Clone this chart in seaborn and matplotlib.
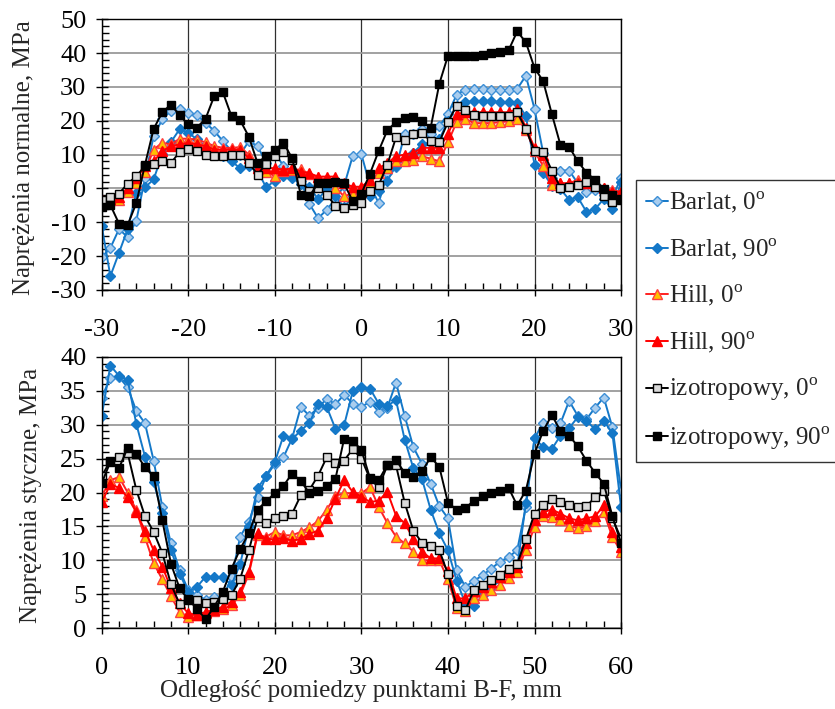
import matplotlib
matplotlib.use('Agg')
import matplotlib.pyplot as plt
import seaborn as sns
from matplotlib.ticker import MultipleLocator

# x positions
x_top = list(range(-30, 31))
x_bot = list(range(0, 61))

# top chart: normal stress
top_barlat0 = [-20.3, -17.6, -12, -14.4, -9.5, 3, 15.5, 20.4, 23, 23.5, 22.2, 21.6, 19.4, 17, 14, 11, 10, 14,
               12.5, 7.6, 10.4, 6.7, 3.7, 2.3, -4.6, -8.8, -6.3, -3.1, 0.8, 9.6, 10.1, 0.8, -4.3, 4.7, 6.2, 16,
               16, 17.5, 16, 18.4, 22, 27.7, 29.2, 29.4, 29.4, 29.2, 29.2, 29, 29.4, 33.3, 23.5, 10.5, 3, 5.3,
               5.3, 1.5, -1, -0.5, -2, -2.5, 3]
top_barlat90 = [-11, -25.9, -19, -12, -1.2, 0.3, 2.7, 10.1, 13.7, 17.5, 16.5, 14.5, 12.5, 10.6, 9.6, 8.1, 5.9,
                6.7, 5.2, 0.3, 2.3, 3.7, 3.2, 1.3, 0.3, -3.1, -0.2, -2.2, -5.6, -2.2, -0.7, -2.2, -0.7, 2.3, 6.7,
                8.6, 10.6, 13, 13.5, 14.5, 19.9, 24.5, 25.5, 25.8, 25.8, 25.8, 25.5, 25.5, 25.3, 21.4, 7, 4.7,
                0.8, -0.2, -3.3, -2.6, -6.9, -6.1, -3.1, -6.1, 1.8]
top_hill0 = [-4, -3.5, -3.5, -1, 1.5, 5, 11.5, 13.5, 13, 14.7, 14.7, 14.4, 13.6, 12.5, 12, 12, 12.2, 10, 6, 5,
             3.6, 5.1, 5.5, 5.6, 4.3, 3.3, 2.6, 0.2, -2.3, -1.5, -1, 1.7, 4.6, 6, 8, 8, 8.5, 9.5, 8.8, 8, 13.6,
             19.6, 20.6, 19.3, 19.3, 19.3, 19.6, 19.8, 20.6, 17.4, 11, 6.6, 1, 1.5, 1.5, 2.6, 1.5, 1, 0, -0.5, -1]
top_hill90 = [-3.5, -3, -2.5, 0, 3, 6.5, 8, 11, 12.5, 13, 13.5, 13, 12.5, 11.5, 11.5, 11.5, 11.5, 9, 6, 6, 6,
              5.5, 6, 5, 4.5, 3.5, 3.5, 3.5, 1.5, 0.5, 0.5, 2.5, 6, 7.5, 9.5, 10, 10.5, 12, 12, 12, 16, 22, 22.5,
              22.5, 22.5, 22.5, 22.5, 22.5, 23.5, 18, 12, 10, 3, 1.5, 1.5, 1.5, 1.5, 1.5, 0, -1, -1]
top_izo0 = [-3.5, -2.5, -1.5, 1.4, 3.6, 6.6, 7.3, 8, 7.5, 10.8, 11.6, 11, 9.8, 9.6, 9.5, 9.8, 9.8, 7.5, 4.1,
            7.3, 9.5, 10.8, 8.5, 2.2, -0.8, 0, -1.8, -5.2, -5.7, -5, -4.2, -0.8, 1, 7, 15.1, 14.2, 16.2, 16.3,
            14.1, 13.7, 19.6, 24.5, 23.2, 21.6, 21.5, 21.3, 21.3, 21.3, 22.5, 17.6, 11, 10.8, 5.3, 0.2, 0.4,
            0.9, 2, 0.5, -2.2, -3.9, -3.4]
top_izo90 = [-5.5, -4.9, -10.4, -10.8, -4.3, 7, 17.6, 22.5, 24.8, 21.6, 18.9, 18, 20.6, 27.3, 28.4, 21.3, 20.1,
             15.3, 7.5, 9.6, 11.4, 13.5, 8.9, -1.9, -2.2, 1.5, 1.5, 1.8, 1.5, -3.8, -1.5, 4.4, 11.1, 17.2, 19.6,
             20.9, 21.2, 19.8, 17.9, 30.9, 39.2, 39, 39, 39, 39.5, 39.9, 40.3, 40.8, 46.4, 43.2, 35.6, 31.7, 22,
             12.8, 12.3, 8, 4.7, 2.5, -0.1, -2, -3]

# bottom chart: shear stress
bot_barlat0 = [34, 36.9, 37, 35.5, 32, 30.2, 24.7, 17.9, 12.5, 8.6, 5.6, 4.9, 4.2, 4.6, 4.5, 7.5, 13.5, 15.7,
               19.4, 22.4, 24.2, 25.2, 28, 32.6, 31.3, 32.5, 33.8, 33, 34.4, 33.1, 32.6, 33.4, 31.9, 32.5, 36.2,
               31.3, 26.7, 24.2, 21.3, 18, 16.2, 8.6, 6.1, 7, 7.8, 8.8, 9.8, 10.5, 11.5, 17.9, 28, 30.3, 29.5,
               30.2, 33.5, 31.3, 30.8, 32.5, 34, 29.6, 20.3]
bot_barlat90 = [31.3, 38.7, 37.2, 36.6, 30.1, 25.3, 21.5, 17, 11.5, 8, 5.4, 6.1, 7.6, 7.6, 7.5, 6.4, 9.5, 15,
                20.6, 22.5, 24.5, 28.4, 27.9, 29.1, 30.3, 33, 32.6, 29.4, 29.9, 34.9, 35.6, 35.3, 33.1, 32.8,
                33.6, 27.8, 23.6, 22, 17.5, 14, 11.5, 7, 3.7, 3.3, 4.9, 5.9, 7.1, 8.3, 9, 18.4, 28, 26.7, 26.4,
                28.4, 29.5, 31.1, 30.6, 29.3, 30.6, 28.7, 17.8]
bot_hill0 = [19.5, 21.8, 22.3, 20, 17.4, 13.4, 9.6, 7.2, 4.7, 2.4, 1.7, 2, 2.3, 2.6, 2.9, 3.4, 4.9, 8, 13.7,
             13.5, 14.2, 13.7, 13.7, 14.2, 14.9, 15.8, 17.5, 19.5, 19.9, 19.9, 19.9, 20.8, 17.9, 15.5, 13.5,
             12.5, 11.3, 10, 10, 10, 7.2, 3, 2.5, 4.4, 4.9, 5.6, 6.4, 7.4, 8.3, 11.6, 14.9, 16.5, 16.4, 16, 15,
             14.8, 15, 15.8, 17.1, 13.4, 11.3]
bot_hill90 = [18.6, 21.2, 20.7, 19.3, 17.1, 14.4, 11.5, 9.1, 5.9, 3.7, 2.2, 2, 2.4, 2.7, 3.2, 3.9, 5.4, 8.3,
              14, 13.2, 13.1, 13.3, 12.9, 13.2, 13.9, 14.4, 16.2, 19.1, 21.8, 20.1, 19.4, 18.6, 18.8, 20.1,
              16.6, 15.5, 13.2, 11.3, 10.3, 10.3, 8.5, 4.4, 4.4, 5.5, 6.1, 6.8, 7.5, 8.3, 9, 12.5, 16, 17.1,
              17.5, 16.9, 16.2, 15.9, 16.2, 16.5, 18.1, 14.2, 12]
bot_izo0 = [22.4, 24.7, 25.2, 25.8, 20.4, 16.5, 14.2, 11.1, 6.5, 3.6, 4.3, 4.1, 3.8, 3.9, 4.3, 4.9, 7.3, 11.5,
            16.2, 15.5, 16.2, 16.5, 16.9, 19.6, 20.4, 22.5, 25.2, 24.3, 24.7, 26.4, 25, 22, 20.8, 24, 24, 18.5,
            14.4, 12.6, 12.1, 11.5, 8, 3.3, 2.7, 5.6, 6.4, 7.1, 7.8, 8.8, 9.5, 13.1, 16.9, 18.1, 19.1, 18.6,
            18.1, 17.9, 18, 19.3, 20.3, 16.2, 13.2]
bot_izo90 = [21.4, 24.5, 23.6, 26.6, 25.7, 23.7, 22.4, 15.9, 9.5, 5.9, 4.2, 2.9, 1.3, 3.2, 5.4, 8.8, 11.7, 14,
             17.5, 18.7, 19.9, 21, 22.8, 21.7, 19.9, 20.3, 21, 22, 27.9, 27.6, 26.3, 22.1, 21.8, 24.1, 24.8,
             22.9, 22.3, 23.1, 25.2, 23.8, 18.5, 17.5, 17.7, 18.8, 19.5, 19.9, 20.3, 20.7, 18.1, 20.3, 25.7,
             29.1, 31.4, 29.1, 28.4, 26.8, 24.7, 22.9, 21.3, 16.5, 12.5]

labels = ['Barlat, 0$^\\mathregular{o}$', 'Barlat, 90$^\\mathregular{o}$', 'Hill, 0$^\\mathregular{o}$',
          'Hill, 90$^\\mathregular{o}$', 'izotropowy, 0$^\\mathregular{o}$', 'izotropowy, 90$^\\mathregular{o}$']

# line colour, marker, face colour, edge colour, marker size
styles = [
    ('#1478c8', 'D', '#a9cdee', '#3d8fd6', 5),
    ('#1478c8', 'D', '#1478c8', '#1478c8', 5),
    ('#ff2020', '^', '#ffc000', '#ff4040', 7),
    ('#ff0000', '^', '#ff0000', '#ff0000', 7),
    ('#000000', 's', '#d9d9d9', '#000000', 6.3),
    ('#000000', 's', '#000000', '#000000', 6.3),
]

sns.set_style('white')
plt.rcParams['font.family'] = ['Liberation Serif', 'DejaVu Serif']
plt.rcParams['mathtext.fontset'] = 'custom'
plt.rcParams['mathtext.rm'] = 'Liberation Serif'
plt.rcParams['axes.unicode_minus'] = False

fig = plt.figure(figsize=(8.35, 7.09), dpi=100)
ax1 = fig.add_axes([0.1218, 0.591, 0.622, 0.3819])
ax2 = fig.add_axes([0.1218, 0.1138, 0.622, 0.383])

top_series = [top_barlat0, top_barlat90, top_hill0, top_hill90, top_izo0, top_izo90]
bot_series = [bot_barlat0, bot_barlat90, bot_hill0, bot_hill90, bot_izo0, bot_izo90]

for ax, xs, series in [(ax1, x_top, top_series), (ax2, x_bot, bot_series)]:
    for ys, lab, (lc, mk, fc, ec, ms) in zip(series, labels, styles):
        sns.lineplot(x=xs, y=ys, ax=ax, color=lc, marker=mk, markerfacecolor=fc, markeredgecolor=ec,
                     markersize=ms, markeredgewidth=1.0, linewidth=1.4, label=lab, sort=False, legend=False)

def style_axes(ax, xlim, ylim, xmaj, xmin, ymaj, ymin):
    ax.set_xlim(*xlim)
    ax.set_ylim(*ylim)
    ax.xaxis.set_major_locator(MultipleLocator(xmaj))
    ax.xaxis.set_minor_locator(MultipleLocator(xmin))
    ax.yaxis.set_major_locator(MultipleLocator(ymaj))
    ax.yaxis.set_minor_locator(MultipleLocator(ymin))
    ax.grid(True, axis='y', which='major', color='#9a9a9a', linewidth=1.3)
    ax.grid(True, axis='x', which='major', color='#303030', linewidth=0.9)
    ax.set_axisbelow(True)
    for s in ax.spines.values():
        s.set_color('black')
        s.set_linewidth(1.0)
    ax.tick_params(axis='both', which='major', direction='inout', length=8, width=1, colors='black',
                   labelsize=19, bottom=True, left=True)
    ax.tick_params(axis='both', which='minor', direction='in', length=5, width=1, colors='black',
                   bottom=True, left=True)
    ax.tick_params(axis='x', which='major', pad=17)
    ax.tick_params(axis='y', which='major', pad=7)

style_axes(ax1, (-30, 30), (-30, 50), 10, 2, 10, 2)
style_axes(ax2, (0, 60), (0, 40), 10, 2, 5, 1)

ax1.set_xlabel('')
ax1.set_ylabel('Naprężenia normalne, MPa', fontsize=18)
ax2.set_ylabel('Naprężenia styczne, MPa', fontsize=18)
ax2.set_xlabel('Odległość pomiedzy punktami B-F, mm', fontsize=18)
ax1.yaxis.set_label_coords(-0.128, 0.49)
ax2.yaxis.set_label_coords(-0.115, 0.49)
ax2.xaxis.set_label_coords(0.5, -0.19)

handles, labs = ax1.get_legend_handles_labels()
leg = fig.legend(handles, labs, loc='upper left', bbox_to_anchor=(0.762, 0.746), fontsize=18,
                 frameon=True, fancybox=False, edgecolor='black', labelspacing=0.85, handlelength=0.85,
                 handletextpad=0.05, borderpad=0.4, borderaxespad=0)
leg.get_frame().set_linewidth(1.0)

fig.savefig('out.png', dpi=100)
